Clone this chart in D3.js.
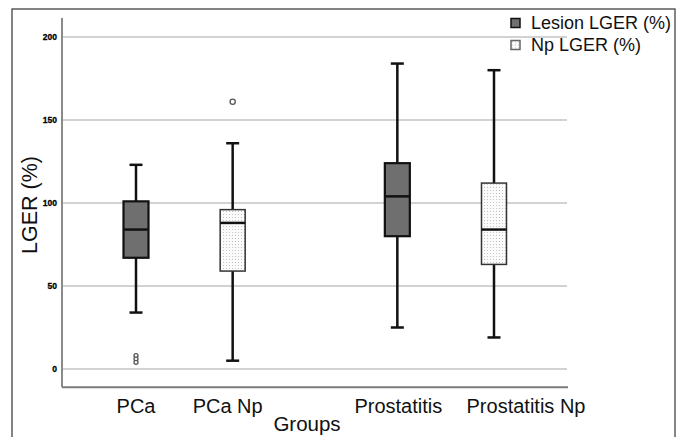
<!DOCTYPE html>
<html>
<head>
<meta charset="utf-8">
<script src="https://cdn.jsdelivr.net/npm/d3@7"></script>
<style>
  body { margin: 0; background: #fff; }
  svg { font-family: "Liberation Sans", Arial, sans-serif; }
</style>
</head>
<body>
<svg id="chart"></svg>
<script>
// data
var groups = ["PCa", "PCa Np", "Prostatitis", "Prostatitis Np"];
var seriesNames = ["Lesion LGER (%)", "Np LGER (%)"];
var groupSeries = ["Lesion LGER (%)", "Np LGER (%)", "Lesion LGER (%)", "Np LGER (%)"];
var whiskerLow = [34, 5, 25, 19];
var q1 = [67, 59, 80, 63];
var medians = [84, 88, 104, 84];
var q3 = [101, 96, 124, 112];
var whiskerHigh = [123, 136, 184, 180];
var outliers = [[8, 6, 4], [161], [], []];
var yTicks = [0, 50, 100, 150, 200];

var W = 683, H = 437;
var svg = d3.select("#chart").attr("width", W).attr("height", H);

// outer frame
svg.append("rect")
  .attr("x", 12).attr("y", 9)
  .attr("width", 663).attr("height", H)
  .attr("fill", "none").attr("stroke", "#333").attr("stroke-width", 1.2);

// dotted pattern for the Np boxes
var defs = svg.append("defs");
var pat = defs.append("pattern")
  .attr("id", "dots").attr("patternUnits", "userSpaceOnUse")
  .attr("width", 3).attr("height", 3);
pat.append("rect").attr("width", 3).attr("height", 3).attr("fill", "#fbfbfb");
pat.append("rect").attr("x", 1).attr("y", 1).attr("width", 1).attr("height", 1).attr("fill", "#c4c4c4");

var fills = { "Lesion LGER (%)": "#6f6f6f", "Np LGER (%)": "url(#dots)" };

var y = d3.scaleLinear().domain([0, 200]).range([369, 37]);
var x = d3.scalePoint().domain(groups).range([119, 511]);
var slot = d3.scalePoint().domain(["Np LGER (%)", "Lesion LGER (%)"]).range([-17, 17]);
var cx = function(i) { return x(groups[i]) + slot(groupSeries[i]); };

var left = 62, right = 567, boxW = 25, capW = 13;
var axisY = y(-11);
// label nudges (the labels in the source are not quite under the boxes)
var labelShift = [0, -5, 1, 32];

// gridlines
svg.append("g").selectAll("line")
  .data(yTicks).enter().append("line")
  .attr("x1", left).attr("x2", right)
  .attr("y1", d => y(d)).attr("y2", d => y(d))
  .attr("stroke", "#c3c3c3").attr("stroke-width", 1.5);

// axes lines
svg.append("line")
  .attr("x1", left).attr("x2", left)
  .attr("y1", 18).attr("y2", axisY)
  .attr("stroke", "#8a8a8a").attr("stroke-width", 2);
svg.append("line")
  .attr("x1", left).attr("x2", right + 1)
  .attr("y1", axisY).attr("y2", axisY)
  .attr("stroke", "#7a7a7a").attr("stroke-width", 2);

// y tick labels
svg.append("g").selectAll("text")
  .data(yTicks).enter().append("text")
  .attr("x", left - 5).attr("y", d => y(d))
  .attr("dy", "0.35em")
  .attr("text-anchor", "end")
  .attr("font-size", 8.5).attr("font-weight", "bold")
  .attr("fill", "#000").attr("stroke", "#000").attr("stroke-width", 0.3)
  .text(d => d);

// boxes
var idx = d3.range(groups.length);
var g = svg.append("g");

g.selectAll(".whisker").data(idx).enter().append("line")
  .attr("x1", cx).attr("x2", cx)
  .attr("y1", i => y(whiskerLow[i])).attr("y2", i => y(whiskerHigh[i]))
  .attr("stroke", "#111").attr("stroke-width", 2.5);

g.selectAll(".capLo").data(idx).enter().append("line")
  .attr("x1", i => cx(i) - capW / 2).attr("x2", i => cx(i) + capW / 2)
  .attr("y1", i => y(whiskerLow[i])).attr("y2", i => y(whiskerLow[i]))
  .attr("stroke", "#111").attr("stroke-width", 2.5);

g.selectAll(".capHi").data(idx).enter().append("line")
  .attr("x1", i => cx(i) - capW / 2).attr("x2", i => cx(i) + capW / 2)
  .attr("y1", i => y(whiskerHigh[i])).attr("y2", i => y(whiskerHigh[i]))
  .attr("stroke", "#111").attr("stroke-width", 2.5);

g.selectAll(".box").data(idx).enter().append("rect")
  .attr("x", i => cx(i) - boxW / 2)
  .attr("y", i => y(q3[i]))
  .attr("width", boxW)
  .attr("height", i => y(q1[i]) - y(q3[i]))
  .attr("fill", i => fills[groupSeries[i]])
  .attr("stroke", i => groupSeries[i] === "Lesion LGER (%)" ? "#111" : "#333")
  .attr("stroke-width", i => groupSeries[i] === "Lesion LGER (%)" ? 2.2 : 1.5);

g.selectAll(".median").data(idx).enter().append("line")
  .attr("x1", i => cx(i) - boxW / 2).attr("x2", i => cx(i) + boxW / 2)
  .attr("y1", i => y(medians[i])).attr("y2", i => y(medians[i]))
  .attr("stroke", "#111").attr("stroke-width", 2.5);

// outliers
var outPts = [];
outliers.forEach(function(list, i) {
  list.forEach(function(v) { outPts.push({ i: i, v: v }); });
});
g.selectAll(".out").data(outPts).enter().append("circle")
  .attr("cx", d => cx(d.i)).attr("cy", d => y(d.v))
  .attr("r", d => d.v < 20 ? 2 : 2.6)
  .attr("fill", "#fff").attr("stroke", "#555").attr("stroke-width", 1.3);

// x category labels
svg.append("g").selectAll("text")
  .data(idx).enter().append("text")
  .attr("x", i => cx(i) + labelShift[i]).attr("y", 413)
  .attr("text-anchor", "middle")
  .attr("font-size", 20).attr("fill", "#111")
  .text(i => groups[i]);

// axis titles
svg.append("text")
  .attr("x", 307).attr("y", 431)
  .attr("text-anchor", "middle")
  .attr("font-size", 20.5).attr("fill", "#111")
  .text("Groups");

svg.append("text")
  .attr("transform", "translate(37,205) rotate(-90)")
  .attr("text-anchor", "middle")
  .attr("font-size", 21.5).attr("fill", "#111")
  .text("LGER (%)");

// legend
var leg = svg.append("g").selectAll("g")
  .data(seriesNames).enter().append("g")
  .attr("transform", (d, k) => `translate(511, ${18.5 + k * 22})`);
leg.append("rect")
  .attr("width", 9).attr("height", 9)
  .attr("fill", d => fills[d])
  .attr("stroke", (d, k) => k === 0 ? "#111" : "#666")
  .attr("stroke-width", 1.5);
leg.append("text")
  .attr("x", 20).attr("y", 4.5).attr("dy", "0.35em")
  .attr("font-size", 18).attr("fill", "#111")
  .text(d => d);
</script>
</body>
</html>
